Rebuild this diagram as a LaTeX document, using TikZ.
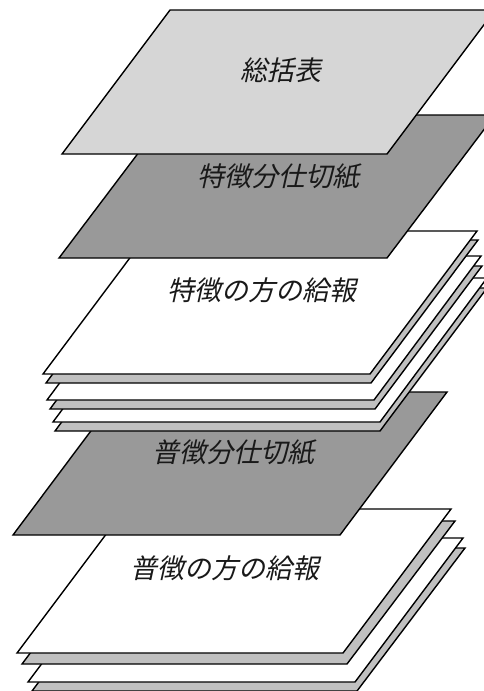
\documentclass[tikz,border=0pt]{standalone}
\usepackage{fontspec}
\newfontfamily\jpfont[FakeSlant=0.22]{Noto Sans CJK JP}
\definecolor{toppaper}{RGB}{214,214,214}
\definecolor{darkpaper}{RGB}{153,153,153}
\definecolor{shadowpaper}{RGB}{192,192,192}
\newcommand\papersheet[6]{% style, bottom-left x, y, width, height, slant offset
  \draw[#1] (#2,#3) -- ++(#4,0) -- ++(#6,-#5) -- ++(-#4,0) -- cycle;}
\tikzset{
  sheetbase/.style={draw=black, line width=1.4pt, line join=miter},
  sheettop/.style={sheetbase, fill=toppaper},
  sheetdark/.style={sheetbase, fill=darkpaper},
  sheetwhite/.style={sheetbase, fill=white},
  sheetshadow/.style={sheetbase, fill=shadowpaper},
  sheetlabel/.style={font=\jpfont\fontsize{27}{27}\selectfont, text=black!90, inner sep=0pt}
}
\begin{document}
\begin{tikzpicture}[x=1pt, y=-1pt]
\useasboundingbox (0,0) rectangle (484,691);
\clip (0,0) rectangle (484,691);
\fill[white] (0,0) rectangle (484,691);
% lower stack (futsu)
\papersheet{sheetshadow}{32}{691}{325}{143}{108}
\papersheet{sheetwhite}{28}{682}{327}{144}{108}
\papersheet{sheetshadow}{22}{664}{325}{143}{108}
\papersheet{sheetwhite}{17}{653}{326}{144}{108}
\node[sheetlabel] (futsukyu) at (225,568) {普徴の方の給報};
% lower divider
\papersheet{sheetdark}{13}{535}{327}{143}{107}
\node[sheetlabel] (futsusikiri) at (233,452) {普徴分仕切紙};
% upper stack (tokucho)
\papersheet{sheetshadow}{55}{431}{325}{143}{107}
\papersheet{sheetwhite}{53}{422}{327}{144}{107}
\papersheet{sheetshadow}{50}{409}{325}{143}{107}
\papersheet{sheetwhite}{47}{400}{327}{144}{107}
\papersheet{sheetshadow}{46}{383}{325}{143}{107}
\papersheet{sheetwhite}{43}{374}{327}{143}{107}
\node[sheetlabel] (tokukyu) at (262,290) {特徴の方の給報};
% upper divider
\papersheet{sheetdark}{59}{258}{328}{143}{108}
\node[sheetlabel] (tokusikiri) at (278,177) {特徴分仕切紙};
% summary sheet
\papersheet{sheettop}{62}{154}{325}{144}{108}
\node[sheetlabel] (soukatsu) at (281,70) {総括表};
\end{tikzpicture}
\end{document}
